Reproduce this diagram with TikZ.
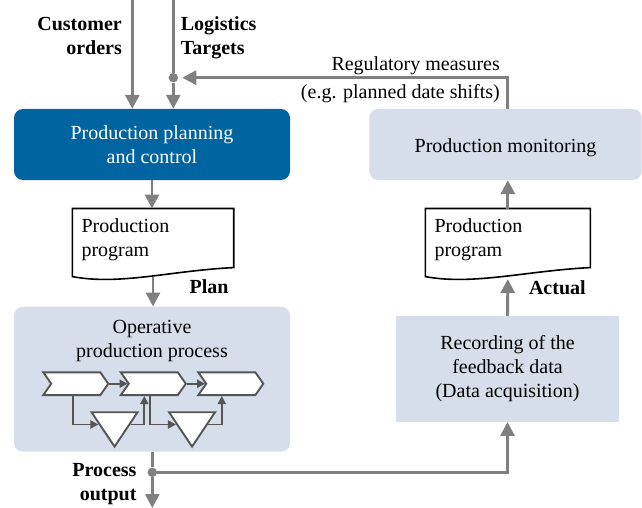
\documentclass[tikz,border=0pt]{standalone}
\usepackage{fontspec}
\setmainfont{Liberation Serif}
\usetikzlibrary{arrows.meta, calc, positioning, shapes.symbols, shapes.geometric}

\definecolor{ppcblue}{RGB}{0,100,161}
\definecolor{boxgray}{RGB}{213,222,234}
\definecolor{flowgray}{RGB}{128,128,128}
\definecolor{stepgray}{RGB}{85,85,85}

\tikzset{
  txt/.style={font=\fontsize{20}{24}\selectfont, inner sep=0pt},
  boldtxt/.style={txt, font=\fontsize{20}{24}\selectfont\bfseries},
  flow/.style={draw=flowgray, line width=2.9pt, -{Triangle[length=14pt,width=14pt]}},
  plainflow/.style={draw=flowgray, line width=2.9pt},
  joint/.style={circle, fill=flowgray, minimum size=9.5pt, inner sep=0pt},
  planbox/.style={txt, rounded corners=9pt, fill=ppcblue, text=white, align=center,
    minimum width=276pt, minimum height=71pt},
  graybox/.style={txt, fill=boxgray, align=center},
  docbox/.style={txt, inner xsep=9pt, inner ysep=10pt, align=left, anchor=north west},
  docline/.style={draw=black, line width=1.6pt},
  chev/.style={signal, signal from=west, signal to=east, signal pointer angle=110,
    draw=stepgray, fill=white, line width=1.9pt, minimum width=65pt,
    minimum height=22.7pt, inner sep=0pt},
  stockbuf/.style={isosceles triangle, isosceles triangle stretches,
    shape border rotate=270, draw=stepgray, fill=white, line width=1.9pt,
    minimum width=46pt, minimum height=34.4pt, inner sep=0pt},
  stepflow/.style={draw=stepgray, line width=1.9pt, -{Triangle[length=8pt,width=8pt]}}
}

\begin{document}
\begin{tikzpicture}[x=1pt, y=-1pt]
    \useasboundingbox (0,0) rectangle (642,508);

    % Kästen
    \node[planbox] (ppc) at (152,144.5) {Production planning\\and control};
    \node[graybox, rounded corners=9pt, minimum width=272.4pt, minimum height=71pt,
      text height=17pt, text depth=0pt] (mon) at (505.5,144.5) {Production monitoring};
    \node[graybox, rounded corners=9pt, minimum width=276pt, minimum height=145pt]
      (proc) at (152,379.2) {};
    \node[graybox, minimum width=223pt, minimum height=105.7pt] (rec) at (507.5,368.9)
      {Recording of the\\feedback data\\(Data acquisition)};
    \node[txt, align=center, below=13.6pt of proc.north] (proctitle)
      {Operative\\production process};

    % Belege
    \node[docbox, text width=143pt] (plan) at (72.3,208.5) {Production\\program};
    \node[docbox, text width=146.7pt] (actual) at (425.3,208.5) {Production\\program};
    \foreach \d in {plan, actual} {
        \draw[docline] (\d.north west) -- (\d.north east) -- ([yshift=3.5pt]\d.south east)
            .. controls ([xshift=-63pt,yshift=0.5pt]\d.south east)
            and ([xshift=48pt,yshift=-14.5pt]\d.south west) .. ([yshift=-5.5pt]\d.south west)
            -- cycle;
    }
    \node[boldtxt, anchor=base east] (plantag) at ([xshift=-5pt,yshift=-22pt]plan.south east) {Plan};
    \node[boldtxt, anchor=base east] (actualtag) at ([xshift=-4.5pt,yshift=-23pt]actual.south east) {Actual};

    % Beschriftungen
    \node[boldtxt, align=right, anchor=east] (custlbl) at (122,35.5) {Customer\\orders};
    \node[boldtxt, align=left, anchor=west] (loglbl) at (180.7,37.5) {Logistics\\Targets};
    \node[txt, align=right, anchor=east] (reglbl) at (500,79.8)
      {Regulatory measures\\[4pt](e.g. planned date shifts)};
    \node[boldtxt, align=right, anchor=east] (outlbl) at (136.7,483.8) {Process\\output};

    % Prozesskette
    \foreach \i/\x in {1/75.8, 2/153.3, 3/230.8} {
        \node[chev] (c\i) at (\x,383.7) {};
    }
    \node[stockbuf] (t1) at ($(c1)!0.5!(c2)+(0,40.8)$) {};
    \node[stockbuf] (t2) at ($(c2)!0.5!(c3)+(0,40.8)$) {};
    \foreach \a/\b/\t in {c1/c2/t1, c2/c3/t2} {
        \draw[stepflow] (\a) -- (\b);
        \draw[stepflow] ([xshift=-3pt]\a.south) |- (\t);
        \draw[stepflow] (\t) -| ([xshift=-9pt]\b.south);
    }

    % Verbindungen
    \coordinate (custtop) at (132.3,0);
    \coordinate (logtop) at (173.3,0);
    \coordinate (outend) at (152.3,508);
    \coordinate (planend) at ([yshift=-6pt]plan.south);
    \coordinate (actualend) at ([yshift=-8pt]actual.south);
    \node[joint] (regdot) at (173.3,77.7) {};
    \node[joint] (outdot) at (152.3,472.3) {};

    \draw[flow] (custtop) -- (custtop |- ppc.north);
    \draw[plainflow] (logtop) -- (regdot);
    \draw[flow] (regdot) -- (regdot |- ppc.north);
    \draw[flow] (ppc.south) -- (ppc.south |- plan.north);
    \draw[flow] (planend) -- (planend |- proc.north);
    \draw[plainflow] (proc.south -| outdot) -- (outdot);
    \draw[flow] (outdot) -- (outend);
    \draw[flow] (outdot) -| (rec.south);
    \draw[flow] (rec.north) -- (actualend);
    \draw[flow] (actual.north) -- (actual.north |- mon.south);
    \draw[flow, shorten >=4pt] (mon.north -| actual.north) |- (regdot);
\end{tikzpicture}
\end{document}
